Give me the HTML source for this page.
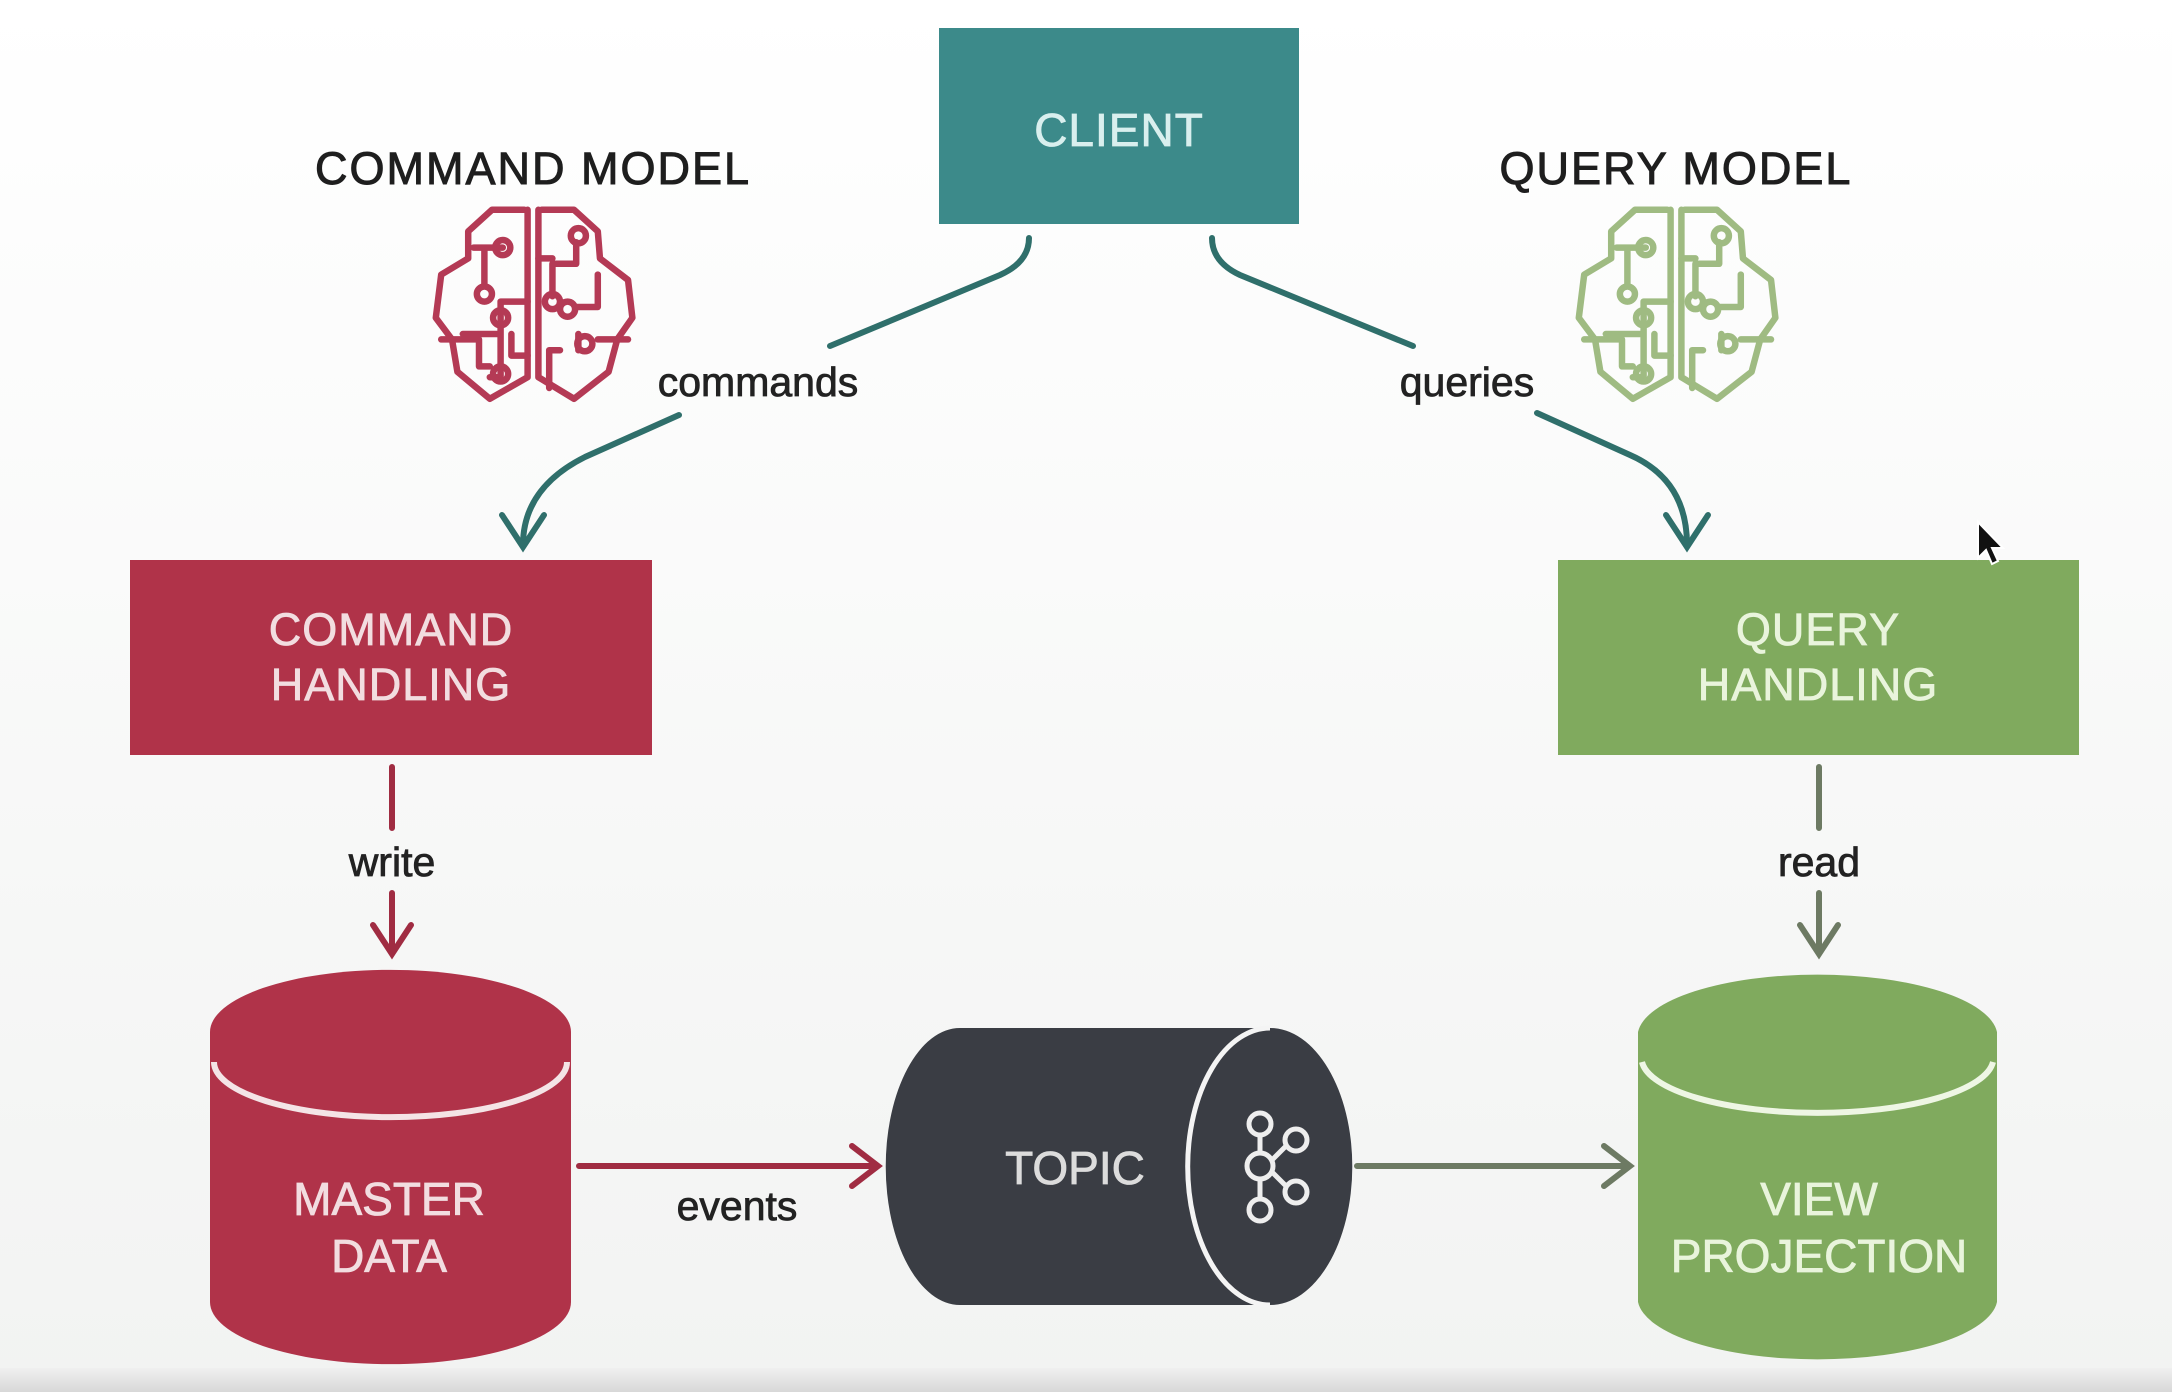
<!DOCTYPE html>
<html><head><meta charset="utf-8"><style>
html,body{margin:0;padding:0;background:#fff}
svg{display:block}
text{font-family:"Liberation Sans",sans-serif}
</style></head><body>
<svg width="2172" height="1392" viewBox="0 0 2172 1392" xmlns="http://www.w3.org/2000/svg">
<defs>
<linearGradient id="bg" x1="0" y1="0" x2="0" y2="1"><stop offset="0" stop-color="#fff"/><stop offset="1" stop-color="#f2f3f2"/></linearGradient>
<linearGradient id="band" x1="0" y1="0" x2="0" y2="1"><stop offset="0" stop-color="#f0f0f0"/><stop offset="1" stop-color="#d8d8d8"/></linearGradient>
<g id="brain" fill="none" stroke-width="6" stroke-linejoin="round" stroke-linecap="round">
<path d="M-8,-90 L-38,-90 L-60,-70 L-60,-45 L-85,-30 L-90,10 L-75,30 L-70,60 L-40,85 L-5,65 L-5,-90 M8,-90 L38,-90 L60,-70 L62,-45 L88,-25 L92,10 L78,30 L70,60 L38,85 L5,65 L5,-90"/>
<path d="M-55,-55 L-28,-55 M-45,-55 L-45,-20 M-65,25 L-30,25 L-30,-5 L-5,-5 M-30,25 L-30,65 L-40,65 M-5,45 L-20,45 L-20,25 M-85,30 L-50,30 L-50,55 L-40,55 M40,-60 L40,-40 L18,-40 L18,-10 M5,-45 L18,-45 M60,-30 L60,0 L40,0 M88,30 L60,30 M25,40 L15,40 L15,75 M42,25 L42,40"/>
<circle cx="-28" cy="-55" r="7"/><circle cx="-45" cy="-12" r="7"/><circle cx="-30" cy="10" r="7"/><circle cx="-30" cy="62" r="7"/>
<circle cx="42" cy="-66" r="7"/><circle cx="18" cy="-5" r="7"/><circle cx="32" cy="2" r="7"/><circle cx="48" cy="34" r="7"/>
</g>
</defs>
<rect width="2172" height="1392" fill="url(#bg)"/>
<rect x="0" y="1368" width="2172" height="24" fill="url(#band)"/>

<rect x="939" y="28" width="360" height="196" fill="#3c8a8a"/>
<text x="1119" y="146" font-size="46" fill="#d9efee" stroke="#d9efee" stroke-width="0.8" letter-spacing="1" text-anchor="middle">CLIENT</text>

<text x="533" y="184" font-size="45" fill="#1e1e1e" stroke="#1e1e1e" stroke-width="1" letter-spacing="2" text-anchor="middle">COMMAND MODEL</text>
<text x="1676" y="184" font-size="45" fill="#1e1e1e" stroke="#1e1e1e" stroke-width="1" letter-spacing="2" text-anchor="middle">QUERY MODEL</text>
<use href="#brain" transform="translate(533,307) scale(1.08)" stroke="#b43a55"/>
<use href="#brain" transform="translate(1676,307) scale(1.08)" stroke="#9fbb82"/>

<g fill="none" stroke="#2f6f6b" stroke-width="6" stroke-linecap="round">
<path d="M1029,238 Q1029,262 1000,275 L830,346"/>
<path d="M679,415 L585,457 Q523,488 523,545"/>
<path d="M502,515 L523,547 L544,515"/>
<path d="M1212,238 Q1212,262 1240,275 L1413,346"/>
<path d="M1537,413 L1630,455 Q1687,480 1687,545"/>
<path d="M1666,515 L1687,547 L1708,515"/>
</g>
<text x="758" y="396" font-size="41" fill="#222" stroke="#222" stroke-width="0.8" text-anchor="middle">commands</text>
<text x="1467" y="396" font-size="41" fill="#222" stroke="#222" stroke-width="0.8" text-anchor="middle">queries</text>

<rect x="130" y="560" width="522" height="195" fill="#b03349"/>
<text x="391" y="645" font-size="45" fill="#f2dde0" stroke="#f2dde0" stroke-width="0.8" letter-spacing="1" text-anchor="middle">COMMAND</text>
<text x="391" y="700" font-size="45" fill="#f2dde0" stroke="#f2dde0" stroke-width="0.8" letter-spacing="1" text-anchor="middle">HANDLING</text>
<rect x="1558" y="560" width="521" height="195" fill="#80aa5e"/>
<text x="1818" y="645" font-size="45" fill="#e9f4dc" stroke="#e9f4dc" stroke-width="0.8" letter-spacing="1" text-anchor="middle">QUERY</text>
<text x="1818" y="700" font-size="45" fill="#e9f4dc" stroke="#e9f4dc" stroke-width="0.8" letter-spacing="1" text-anchor="middle">HANDLING</text>

<g fill="none" stroke-width="6" stroke-linecap="round">
<path d="M392,767 L392,828 M392,893 L392,952 M373,925 L392,954 L411,925" stroke="#a02c42"/>
<path d="M1819,767 L1819,828 M1819,893 L1819,952 M1800,925 L1819,954 L1838,925" stroke="#6d7a63"/>
</g>
<text x="392" y="876" font-size="41" fill="#222" stroke="#222" stroke-width="0.8" text-anchor="middle">write</text>
<text x="1819" y="876" font-size="41" fill="#222" stroke="#222" stroke-width="0.8" text-anchor="middle">read</text>

<path d="M210,1032 A180,62 0 0 1 571,1032 L571,1302 A180,62 0 0 1 210,1302 Z" fill="#b03349"/>
<path d="M214,1062 A176,55 0 0 0 567,1062" fill="none" stroke="#f4e4e6" stroke-width="6"/>
<text x="389" y="1215" font-size="46" fill="#f2dde0" stroke="#f2dde0" stroke-width="0.8" text-anchor="middle">MASTER</text>
<text x="389" y="1272" font-size="46" fill="#f2dde0" stroke="#f2dde0" stroke-width="0.8" text-anchor="middle">DATA</text>

<path d="M1638,1032 A180,62 0 0 1 1997,1032 L1997,1302 A180,62 0 0 1 1638,1302 Z" fill="#80aa5e"/>
<path d="M1642,1062 A176,55 0 0 0 1993,1062" fill="none" stroke="#eef6e4" stroke-width="6"/>
<text x="1819" y="1215" font-size="46" fill="#e9f4dc" stroke="#e9f4dc" stroke-width="0.8" text-anchor="middle">VIEW</text>
<text x="1819" y="1272" font-size="46" fill="#e9f4dc" stroke="#e9f4dc" stroke-width="0.8" text-anchor="middle">PROJECTION</text>

<path d="M579,1166 L878,1166 M852,1146 L878,1166 L852,1186" fill="none" stroke="#a02c42" stroke-width="6" stroke-linecap="round"/>
<text x="737" y="1220" font-size="41" fill="#222" stroke="#222" stroke-width="0.8" text-anchor="middle">events</text>

<path d="M960,1028 L1270,1028 A82,138 0 0 1 1270,1305 L960,1305 A74,138 0 0 1 960,1028 Z" fill="#3a3d44"/>
<path d="M1270,1028 A82,138 0 0 0 1270,1305" fill="none" stroke="#f4f4f4" stroke-width="5"/>
<text x="1075" y="1184" font-size="46" fill="#dcdcdc" stroke="#dcdcdc" stroke-width="0.8" text-anchor="middle">TOPIC</text>
<g fill="none" stroke="#eee" stroke-width="5">
<circle cx="1260" cy="1124" r="11"/><circle cx="1260" cy="1166" r="13"/><circle cx="1260" cy="1210" r="11"/>
<circle cx="1296" cy="1140" r="11"/><circle cx="1296" cy="1192" r="11"/>
<path d="M1260,1135 L1260,1153 M1260,1179 L1260,1199 M1272,1160 L1286,1146 M1272,1172 L1286,1186"/>
</g>
<path d="M1357,1166 L1630,1166 M1604,1146 L1630,1166 L1604,1186" fill="none" stroke="#6d7a63" stroke-width="6" stroke-linecap="round"/>

<path d="M1978,522 L1978,558 L1986,550 L1992,564 L1998,561 L1992,548 L2003,548 Z" fill="#111" stroke="#fff" stroke-width="2"/>
</svg>
</body></html>
